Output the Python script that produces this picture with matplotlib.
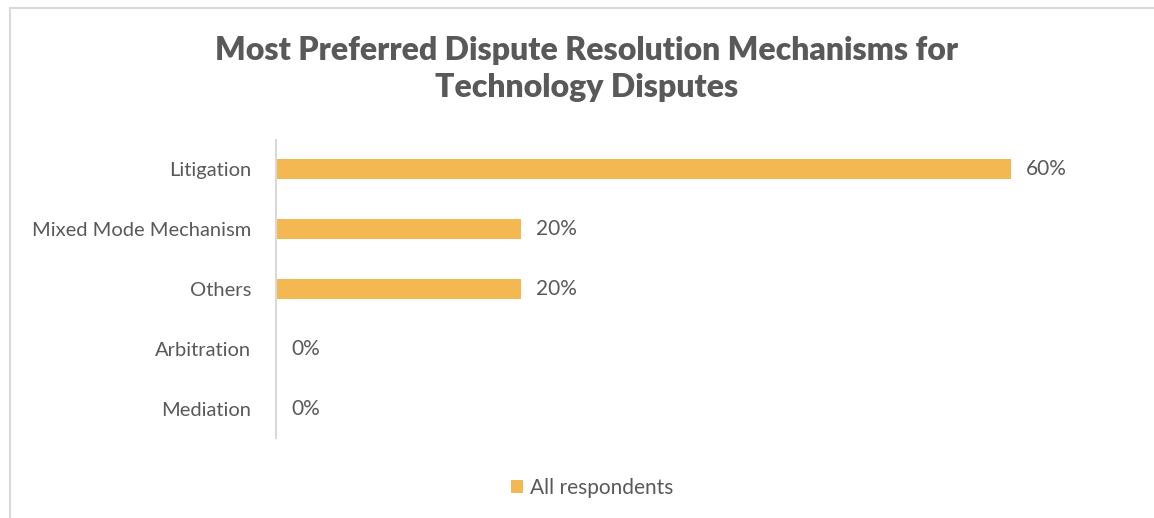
import matplotlib
matplotlib.use("Agg")
import matplotlib.pyplot as plt
from matplotlib.lines import Line2D

categories = ["Litigation", "Mixed Mode Mechanism", "Others", "Arbitration", "Mediation"]
shares = [0.60, 0.20, 0.20, 0.0, 0.0]
series_name = "All respondents"
title = "Most Preferred Dispute Resolution Mechanisms for\nTechnology Disputes"

BAR = "#f4b852"
TXT = "#595959"
W, H = 1154, 518

plt.rcParams["font.family"] = ["Lato", "DejaVu Sans"]
fig = plt.figure(figsize=(W / 100, H / 100), dpi=100)
ax = fig.add_axes([276 / W, 1 - 438 / H, (1133 - 276) / W, (438 - 140) / H])

ys = list(range(len(categories)))
ax.barh(ys, shares, height=0.34, color=BAR, label=series_name)
for y, v in zip(ys, shares):
    ax.annotate(f"{v:.0%}", (v, y), xytext=(11, 0), textcoords="offset points",
                va="center", ha="left", fontsize=15, color=TXT)

ax.set_xlim(0, 0.7)
ax.set_ylim(4.48, -0.48)
ax.set_yticks(ys)
ax.set_yticklabels(categories, fontsize=14.5, color=TXT)
ax.tick_params(axis="y", length=0, pad=18)
ax.set_xticks([])
for s in ("top", "right", "bottom"):
    ax.spines[s].set_visible(False)
ax.spines["left"].set_color("#d9d9d9")
ax.spines["left"].set_linewidth(1.5)

fig.text(587 / W, 1 - 69 / H, title, ha="center", va="center", fontsize=23,
         fontweight="heavy", color=TXT, linespacing=1.32)

fig.legend(loc="center", bbox_to_anchor=(592 / W, 1 - 488 / H), frameon=False,
           fontsize=15, labelcolor=TXT, handlelength=0.6, handleheight=0.6,
           handletextpad=0.3)

# chart frame (top and left edges fall inside the image)
fig.add_artist(Line2D([10 / W, 1], [1 - 8 / H, 1 - 8 / H], transform=fig.transFigure,
                      color="#d9d9d9", lw=1.5))
fig.add_artist(Line2D([10 / W, 10 / W], [0, 1 - 8 / H], transform=fig.transFigure,
                      color="#d9d9d9", lw=1.5))

fig.savefig("out.png", dpi=100)
